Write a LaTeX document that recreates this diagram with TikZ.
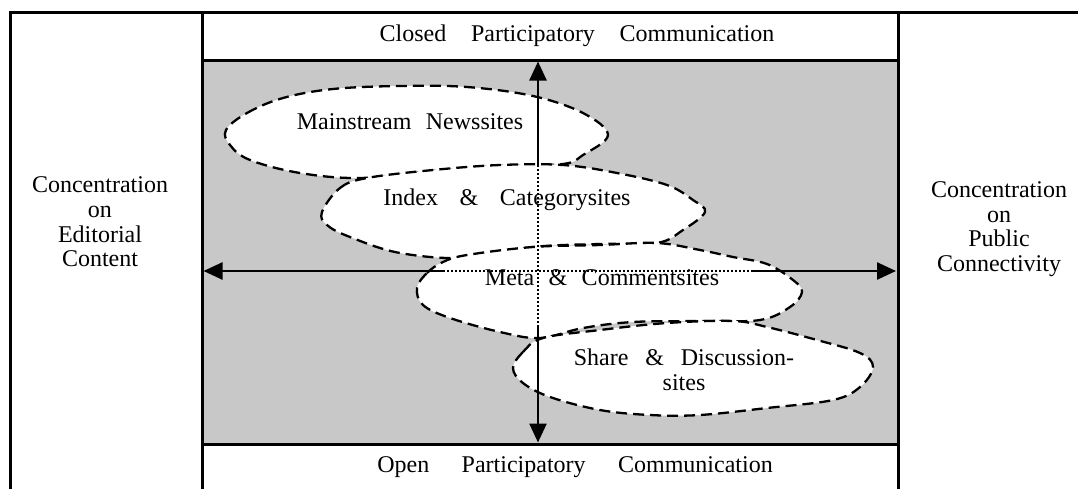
\documentclass[tikz,border=0pt]{standalone}
\usepackage{fontspec}
\setmainfont{Liberation Serif}
\usetikzlibrary{arrows.meta}
\definecolor{panelgray}{RGB}{200,200,200}
\tikzset{
  frameline/.style={line width=3pt},
  blob/.style={draw, fill=white, line width=2.3pt, dash pattern=on 11pt off 6pt},
  axisline/.style={line width=2.5pt},
  dotaxis/.style={line width=2pt, dash pattern=on 2pt off 2pt},
  tipped/.style={-{Triangle[length=19pt,width=17pt]}},
  lbl/.style={font=\fontsize{24}{24.6}\selectfont, inner sep=0pt, align=center}
}
\begin{document}
\begin{tikzpicture}[x=1pt,y=-1pt]
\useasboundingbox (0,0) rectangle (1078,488);
\clip (0,0) rectangle (1078,488);
% frame
\fill[panelgray] (202,60) rectangle (897,444);
\draw[frameline] (10,500) -- (10,12) -- (1090,12);
\draw[frameline] (202,12) -- (202,500);
\draw[frameline] (898.5,12) -- (898.5,500);
\draw[frameline] (202,60) -- (897,60);
\draw[frameline] (202,444) -- (897,444);
% blobs
\draw[blob] plot[smooth cycle, tension=0.6] coordinates {(226,130) (247,113) (283,98) (333,89) (400,86) (467,87) (533,96) (583,113) (608,135) (583,155) (563,164) (500,166) (433,171) (360,178) (300,173) (250,160) (230,145)};
\draw[blob] plot[smooth cycle, tension=0.6] coordinates {(322,212) (340,188) (367,178) (433,170) (500,165) (563,165) (617,173) (667,185) (693,200) (705,212) (683,230) (657,243) (600,244) (533,247) (467,258) (400,253) (350,237) (327,225)};
\draw[blob] plot[smooth cycle, tension=0.6] coordinates {(417,288) (427,273) (443,262) (467,255) (533,247) (600,245) (657,243) (700,250) (733,257) (767,264) (793,280) (802,292) (790,307) (760,320) (700,321) (633,322) (583,328) (540,338) (500,332) (450,318) (423,305)};
\draw[blob] plot[smooth cycle, tension=0.6] coordinates {(513,368) (523,352) (543,338) (600,330) (667,323) (733,321) (767,327) (817,340) (860,353) (873,367) (860,387) (833,400) (767,408) (700,415) (650,415) (600,410) (550,397) (523,383)};
% labels
\node[lbl] (closed) at (577,36) {Closed\hspace{1.03em}Participatory\hspace{1.03em}Communication};
\node[lbl] (open) at (575,467) {Open\hspace{1.35em}Participatory\hspace{1.35em}Communication};
\node[lbl] (editorial) at (100,222) {Concentration\\on\hspace{32pt}\\Editorial\hspace{18pt}\\Content\hspace{16pt}};
\node[lbl] (public) at (999,229) {Concentration\\on\hspace{16pt}\\Public\hspace{6pt}\\Connectivity};
\node[lbl] (mainstream) at (410,122) {Mainstream\hspace{0.6em}Newssites};
\node[lbl] (index) at (507,200) {Index\hspace{0.9em}\&\hspace{0.9em}Categorysites};
\node[lbl] (meta) at (602,278) {Meta\hspace{0.6em}\&\hspace{0.6em}Commentsites};
\node[lbl] (share) at (684,370) {Share\hspace{0.7em}\&\hspace{0.7em}Discussion-\\sites\hspace{48pt}};
% axes
\coordinate (vt) at (538,61.5);
\coordinate (vb) at (538,442.5);
\coordinate (v1) at (538,165);
\coordinate (v2) at (538,325);
\coordinate (hl) at (203.5,271);
\coordinate (hr) at (896,271);
\coordinate (h1) at (443,271);
\coordinate (h2) at (753,271);
\draw[axisline,tipped] (v1) -- (vt);
\draw[dotaxis] (v1) -- (v2);
\draw[axisline,tipped] (v2) -- (vb);
\draw[axisline,tipped] (h1) -- (hl);
\draw[dotaxis] (h1) -- (h2);
\draw[axisline,tipped] (h2) -- (hr);
\end{tikzpicture}
\end{document}
